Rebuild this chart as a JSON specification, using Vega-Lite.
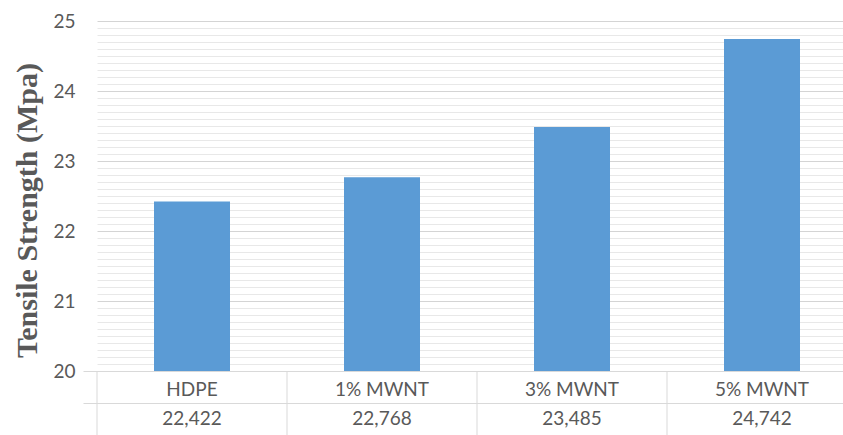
{
  "$schema": "https://vega.github.io/schema/vega-lite/v6.json",
  "autosize": {"type": "none"},
  "padding": {"left": 97, "top": 21, "right": 0, "bottom": 0},
  "background": "white",
  "width": 746,
  "height": 414,
  "data": {
    "values": [
      {"sample": "HDPE", "strength": 22.422},
      {"sample": "1% MWNT", "strength": 22.768},
      {"sample": "3% MWNT", "strength": 23.485},
      {"sample": "5% MWNT", "strength": 24.742}
    ]
  },
  "layer": [
    {
      "mark": {"type": "bar", "color": "#5b9bd5", "width": {"band": 0.4}},
      "encoding": {
        "x": {
          "field": "sample",
          "type": "nominal",
          "sort": null,
          "scale": {"range": [0, 760], "paddingInner": 0, "paddingOuter": 0},
          "axis": null
        },
        "y": {
          "field": "strength",
          "type": "quantitative",
          "scale": {"domain": [20, 25], "zero": false, "nice": false, "range": [350, 0]},
          "axis": {
            "tickCount": 50,
            "tickMinStep": 0.1,
            "labelExpr": "abs(datum.value - round(datum.value)) < 1e-6 ? format(round(datum.value), 'd') : ''",
            "labelOverlap": false,
            "labelFlush": false,
            "ticks": false,
            "domain": false,
            "labelPadding": 22,
            "labelFont": "Lato",
            "labelFontSize": 19,
            "labelColor": "#595959",
            "gridColor": {
              "condition": {"test": "abs(datum.value - round(datum.value)) < 1e-6", "value": "#d4d4d4"},
              "value": "#e8e8e8"
            },
            "title": "Tensile Strength  (Mpa)",
            "titleFont": "Liberation Serif",
            "titleFontSize": 30,
            "titleFontWeight": "bold",
            "titleColor": "#595959",
            "titleAngle": -90,
            "titleAlign": "center",
            "titleBaseline": "alphabetic",
            "titleX": -61,
            "titleY": 189
          }
        },
        "y2": {"datum": 20}
      }
    },
    {
      "layer": [
        {
          "mark": {"type": "rule", "color": "#d9d9d9", "strokeWidth": 1},
          "encoding": {
            "x": {"field": "sample", "type": "nominal", "sort": null, "bandPosition": 0},
            "y": {
              "datum": 0,
              "type": "quantitative",
              "scale": {"domain": [0, 2], "zero": false, "nice": false, "range": [414, 350]},
              "axis": {
                "orient": "right",
                "values": [1, 2],
                "grid": true,
                "gridColor": "#d9d9d9",
                "labels": false,
                "ticks": false,
                "domain": false,
                "title": null
              }
            },
            "y2": {"datum": 2}
          }
        },
        {
          "mark": {"type": "text", "font": "Lato", "fontSize": 19, "color": "#595959", "dy": 3},
          "encoding": {
            "x": {"field": "sample", "type": "nominal", "sort": null},
            "y": {"datum": 1.5, "type": "quantitative"},
            "text": {"field": "sample"}
          }
        },
        {
          "mark": {"type": "text", "font": "Lato", "fontSize": 19, "color": "#595959"},
          "encoding": {
            "x": {"field": "sample", "type": "nominal", "sort": null},
            "y": {"datum": 0.5, "type": "quantitative"},
            "text": {"field": "strength", "type": "quantitative", "format": ".3f"}
          }
        }
      ]
    }
  ],
  "resolve": {"scale": {"y": "independent"}, "axis": {"y": "independent"}},
  "config": {
    "view": {"stroke": null},
    "locale": {
      "number": {"decimal": ",", "thousands": ".", "grouping": [3], "currency": ["", " €"]}
    }
  }
}
